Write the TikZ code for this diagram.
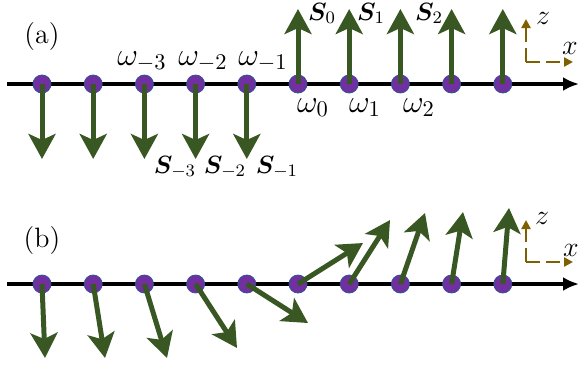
\documentclass[tikz,border=0pt]{standalone}
\usepackage{fix-cm}
\usepackage{amsmath,bm}
\usetikzlibrary{arrows.meta}
\definecolor{spingreen}{RGB}{56,87,35}
\definecolor{dotpurple}{RGB}{112,48,160}
\definecolor{dotedge}{RGB}{47,85,151}
\definecolor{framebrown}{RGB}{127,96,0}
\tikzset{
 site/.style={circle, fill=dotpurple, draw=dotedge, line width=0.4pt, minimum size=9pt, inner sep=0pt},
 spin/.style={draw=spingreen, fill=spingreen, line width=2.5pt, -{Stealth[length=12.5pt,width=13.5pt,inset=3pt]}},
 axisline/.style={line width=1.6pt, -{Latex[length=8pt,width=7pt]}},
 frameax/.style={draw=framebrown, line width=1.4pt, dash pattern=on 7pt off 3pt, -{Triangle[length=4.5pt,width=4.5pt]}},
 omlab/.style={inner sep=0pt, anchor=base, font=\fontsize{16}{19}\selectfont},
 slab/.style={inner sep=0pt, anchor=base, font=\fontsize{12.5}{15}\selectfont},
 panel/.style={inner sep=0pt, font=\fontsize{14}{17}\selectfont},
 axlab/.style={inner sep=0pt, font=\fontsize{14}{17}\selectfont},
}
\begin{document}
\begin{tikzpicture}[x=0.5pt,y=-0.5pt]
\useasboundingbox (0,0) rectangle (581,370);
% ---------------- panel (a)
\coordinate (aL) at (7,84);
\coordinate (aR) at (579,84);
\draw[axisline] (aL) -- (aR);
\foreach \i/\x in {0/42,1/93.2,2/144.4,3/195.6,4/246.8,5/298,6/349.2,7/400.4,8/451.6,9/502.8}{
  \node[site] (a\i) at (\x,84) {};
}
\foreach \i/\x in {0/42,1/93.2,2/144.4,3/195.6,4/246.8}{
  \coordinate (ta\i) at (\x,159);
  \draw[spin] (a\i.center) -- (ta\i);
}
\foreach \i/\x in {5/298,6/349.2,7/400.4,8/451.6,9/502.8}{
  \coordinate (ta\i) at (\x,9);
  \draw[spin] (a\i.center) -- (ta\i);
}
\node[panel] (pa) at (42,37) {(a)};
\node[omlab] (wm3) at (142,65) {$\omega_{-3}$};
\node[omlab] (wm2) at (203,65) {$\omega_{-2}$};
\node[omlab] (wm1) at (263,65) {$\omega_{-1}$};
\node[omlab] (w0) at (313,112) {$\omega_{0}$};
\node[omlab] (w1) at (365,112) {$\omega_{1}$};
\node[omlab] (w2) at (419,112) {$\omega_{2}$};
\node[slab] (sm3) at (175,173) {$\bm{S}_{-3}$};
\node[slab] (sm2) at (225,173) {$\bm{S}_{-2}$};
\node[slab] (sm1) at (277,173) {$\bm{S}_{-1}$};
\node[slab] (s0) at (322,20) {$\bm{S}_{0}$};
\node[slab] (s1) at (371,20) {$\bm{S}_{1}$};
\node[slab] (s2) at (429,20) {$\bm{S}_{2}$};
\coordinate (fa) at (526,62);
\coordinate (faz) at (526,19);
\coordinate (fax) at (573,62);
\draw[frameax] (fa) -- (faz);
\draw[frameax] (fa) -- (fax);
\node[axlab] (za) at (543,18) {$z$};
\node[axlab] (xa) at (570,48) {$x$};
% ---------------- panel (b)
\coordinate (bL) at (7,284);
\coordinate (bR) at (579,284);
\draw[axisline] (bL) -- (bR);
\foreach \i/\x in {0/42,1/93.2,2/144.4,3/195.6,4/246.8,5/298,6/349.2,7/400.4,8/451.6,9/502.8}{
  \node[site] (b\i) at (\x,284) {};
}
\foreach \i/\tx/\ty in {0/45/358,1/105/358,2/167/358,3/237/348,4/308/323,5/363/243,6/390/220,7/425/213,8/463/212,9/509/208}{
  \coordinate (tb\i) at (\tx,\ty);
  \draw[spin] (b\i.center) -- (tb\i);
}
\node[panel] (pb) at (42,241) {(b)};
\coordinate (fb) at (526,262);
\coordinate (fbz) at (526,220);
\coordinate (fbx) at (573,262);
\draw[frameax] (fb) -- (fbz);
\draw[frameax] (fb) -- (fbx);
\node[axlab] (zb) at (542,218) {$z$};
\node[axlab] (xb) at (571,250) {$x$};
\end{tikzpicture}
\end{document}
